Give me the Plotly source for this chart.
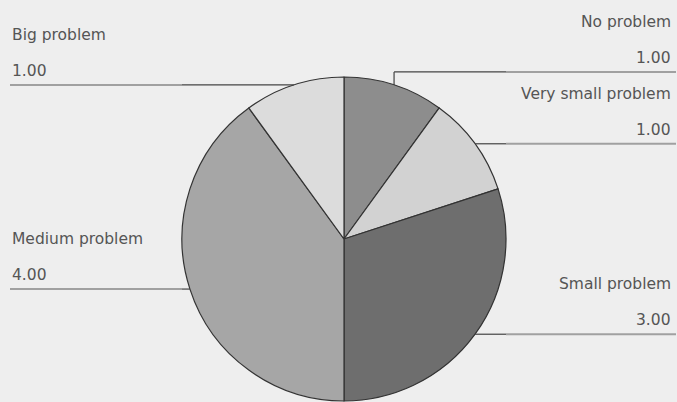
import math
import plotly.graph_objects as go

categories = ["No problem", "Very small problem", "Small problem", "Medium problem", "Big problem"]
values = [1.0, 1.0, 3.0, 4.0, 1.0]
colors = ["#8d8d8d", "#d2d2d2", "#6e6e6e", "#a6a6a6", "#dcdcdc"]

W, H = 677, 402
CX, CY, R = 344, 239, 162  # pie centre and radius in pixels

fig = go.Figure(go.Pie(
    labels=categories, values=values, sort=False, direction="clockwise", rotation=0,
    marker=dict(colors=colors, line=dict(color="#333333", width=1.2)),
    textinfo="none", hoverinfo="label+value", showlegend=False,
    domain=dict(x=[(CX - R) / W, (CX + R) / W], y=[(H - CY - R) / H, (H - CY + R) / H]),
))

def px(x):
    return x / W

def py(y):
    return 1 - y / H

shapes, annotations = [], []
total = sum(values)
cum = 0.0
font = dict(family="DejaVu Sans, Verdana, sans-serif", size=15.5, color="#555555")
for cat, v in zip(categories, values):
    mid = (cum + v / 2) / total * 2 * math.pi
    cum += v
    ex = CX + R * math.sin(mid)
    ey = CY - R * math.cos(mid)
    right = math.sin(mid) > 0
    ly = ey
    if right and ey < 100:
        ly = ey - 13  # short vertical jog like the reference
        shapes.append(dict(type="line", xref="paper", yref="paper", x0=px(ex), y0=py(ey), x1=px(ex), y1=py(ly),
                           line=dict(color="#444444", width=1.2)))
    if right:
        inner_end, outer_end = CX + R, W - 1
    else:
        inner_end, outer_end = CX - R, 10
    shapes.append(dict(type="line", xref="paper", yref="paper", x0=px(ex), y0=py(ly), x1=px(inner_end), y1=py(ly),
                       line=dict(color="#444444", width=1.2)))
    shapes.append(dict(type="line", xref="paper", yref="paper", x0=px(inner_end), y0=py(ly), x1=px(outer_end), y1=py(ly),
                       line=dict(color="#a0a0a0", width=2)))
    tx = px(W - 4) if right else px(outer_end)
    anchor = "right" if right else "left"
    annotations.append(dict(text=cat, x=tx, y=py(ly - 50), xref="paper", yref="paper",
                            xanchor=anchor, yanchor="middle", showarrow=False, font=font))
    annotations.append(dict(text=f"{v:.2f}", x=tx, y=py(ly - 14), xref="paper", yref="paper",
                            xanchor=anchor, yanchor="middle", showarrow=False, font=font))

fig.update_layout(
    width=W, height=H, margin=dict(l=0, r=0, t=0, b=0),
    paper_bgcolor="#eeeeee", plot_bgcolor="#eeeeee",
    shapes=shapes, annotations=annotations,
)
fig.write_html("out.html", config={"displayModeBar": False},
               post_script="document.body.style.margin='0';document.body.style.overflow='hidden';")
